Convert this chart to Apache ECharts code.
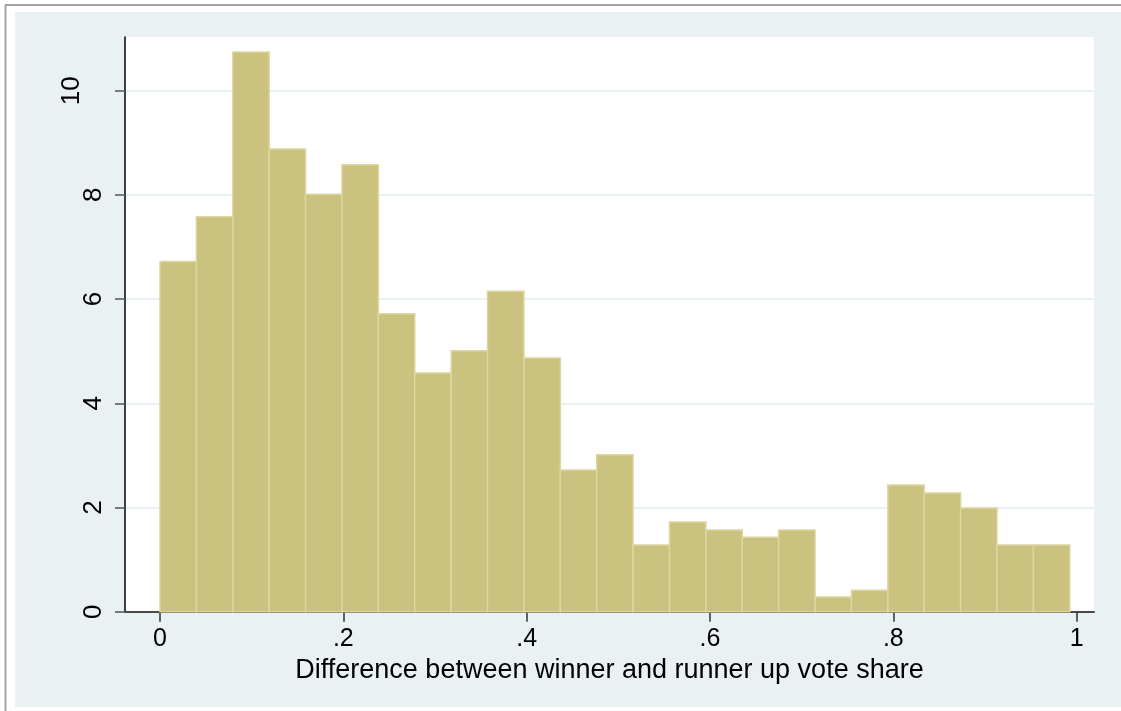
<!DOCTYPE html>
<html>
<head>
<meta charset="utf-8">
<script src="https://cdn.jsdelivr.net/npm/echarts@6/dist/echarts.min.js"></script>
<style>
html,body{margin:0;padding:0;background:#fff;}
#chart{width:1121px;height:711px;}
</style>
</head>
<body>
<div id="chart"></div>
<script>
// Histogram: density per bin (bins of equal width starting at 0)
const binWidth = 0.0397;
const density = [6.72, 7.58, 10.74, 8.88, 8.01, 8.58, 5.72, 4.58, 5.01, 6.15, 4.87, 2.72, 3.01,
                 1.28, 1.72, 1.57, 1.43, 1.57, 0.28, 0.41, 2.43, 2.28, 1.99, 1.28, 1.28];
const xTickValues = [0, 0.2, 0.4, 0.6, 0.8, 1];
const xTickLabels = ['0', '.2', '.4', '.6', '.8', '1'];
const yTickValues = [0, 2, 4, 6, 8, 10];
const xTitle = 'Difference between winner and runner up vote share';

const binData = density.map((d, i) => [i * binWidth, (i + 1) * binWidth, d]);

const chart = echarts.init(document.getElementById('chart'), null, {renderer: 'canvas'});
const FONT = "'Liberation Sans', Arial, sans-serif";

chart.setOption({
  animation: false,
  backgroundColor: '#ffffff',
  graphic: [
    {type: 'rect', z: -10, silent: true, shape: {x: 15, y: 12, width: 1106, height: 695}, style: {fill: '#EAF1F3'}},
    {type: 'line', z: -5, silent: true, shape: {x1: 5, y1: 5, x2: 1121, y2: 5}, style: {stroke: '#a3a3a3', lineWidth: 2}},
    {type: 'line', z: -5, silent: true, shape: {x1: 5.5, y1: 5, x2: 5.5, y2: 711}, style: {stroke: '#a3a3a3', lineWidth: 2}}
  ],
  grid: {
    left: 125, right: 27, top: 37, bottom: 99.3,
    show: true, backgroundColor: '#ffffff', borderWidth: 0
  },
  xAxis: {
    type: 'value',
    min: -0.0382, max: 1.0189,
    name: xTitle,
    nameLocation: 'middle',
    nameGap: 37,
    nameTextStyle: {fontFamily: FONT, fontSize: 27, color: '#000'},
    axisLine: {show: true, onZero: false, lineStyle: {color: '#4a4a4a', width: 2}},
    axisTick: {show: true, length: 10, customValues: xTickValues, lineStyle: {color: '#333', width: 1.5}},
    axisLabel: {
      customValues: xTickValues,
      formatter: v => xTickLabels[xTickValues.findIndex(t => Math.abs(t - v) < 1e-9)],
      fontFamily: FONT, fontSize: 25, color: '#000', margin: 15
    },
    splitLine: {show: false}
  },
  yAxis: {
    type: 'value',
    min: 0, max: 11.03,
    axisLine: {show: true, onZero: false, lineStyle: {color: '#000', width: 1.5}},
    axisTick: {show: true, length: 10, customValues: yTickValues, lineStyle: {color: '#555', width: 1.5}},
    axisLabel: {
      customValues: yTickValues,
      rotate: 90,
      margin: 18,
      formatter: v => (v === 10 ? '{far|' + v + '}' : '{n|' + v + '}'),
      rich: {
        n: {fontFamily: FONT, fontSize: 26, color: '#000'},
        far: {fontFamily: FONT, fontSize: 26, color: '#000', padding: [0, 0, 22, 0]}
      }
    },
    splitLine: {show: true, lineStyle: {color: '#EAF1F3', width: 2}}
  },
  series: [{
    type: 'custom',
    data: binData,
    encode: {x: [0, 1], y: 2},
    renderItem: function (params, api) {
      const p0 = api.coord([api.value(0), 0]);
      const p1 = api.coord([api.value(1), api.value(2)]);
      return {
        type: 'rect',
        shape: {x: p0[0], y: p1[1], width: p1[0] - p0[0], height: p0[1] - p1[1]},
        style: {fill: '#CAC27E', stroke: '#DDD6A1', lineWidth: 1.5}
      };
    }
  }]
});
</script>
</body>
</html>
